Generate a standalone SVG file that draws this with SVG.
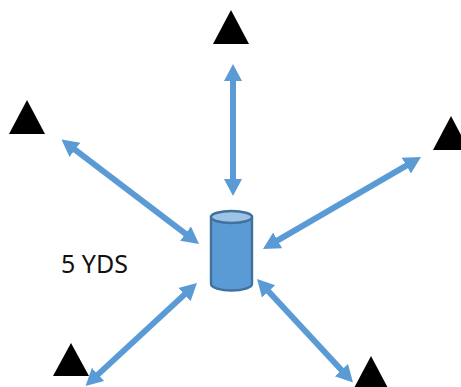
<svg xmlns="http://www.w3.org/2000/svg" width="461" height="387" viewBox="0 0 461 387">
<style>
.tri{fill:#000}
.conn{stroke:#5B9BD5;stroke-width:6;fill:none;marker-start:url(#head);marker-end:url(#head)}
.cyl{fill:#5B9BD5;stroke:#41719C;stroke-width:2.4}
.cap{fill:#9DC3E6;stroke:#41719C;stroke-width:2.4}
.lbl{font-family:"Noto Sans","Open Sans",sans-serif;font-size:25px;fill:#111}
</style>
<defs>
<marker id="head" markerUnits="userSpaceOnUse" markerWidth="20" markerHeight="20" refX="1" refY="10" orient="auto-start-reverse" viewBox="0 0 20 20">
<path d="M0 1L17 10L0 19Z" fill="#5B9BD5"/>
</marker>
</defs>
<rect width="461" height="387" fill="#fff"/>
<g id="connectors">
<line class="conn" x1="233" y1="80" x2="233" y2="180"/>
<line class="conn" x1="74.2" y1="149.2" x2="186.3" y2="234.3"/>
<line class="conn" x1="97.3" y1="375.1" x2="185.2" y2="293.9"/>
<line class="conn" x1="267.9" y1="290.7" x2="342.1" y2="370.8"/>
<line class="conn" x1="276.8" y1="240.9" x2="407.2" y2="165.1"/>
</g>
<g id="cylinder">
<path class="cyl" d="M211 217V284A20.5 6.5 0 0 0 252 284V217Z"/>
<ellipse class="cap" cx="231.5" cy="217" rx="20.5" ry="6"/>
</g>
<g id="marker-top"><polygon class="tri" points="231,10 213,44 249,44"/></g>
<g id="marker-left"><polygon class="tri" points="27,100 9,134 45,134"/></g>
<g id="marker-right"><polygon class="tri" points="451,116 433,150 469,150"/></g>
<g id="marker-bottom-left"><polygon class="tri" points="71,343 53,376 89,376"/></g>
<g id="marker-bottom-right"><polygon class="tri" points="371,356 353,390 389,390"/></g>
<g id="label"><text class="lbl" x="61" y="273">5 YDS</text></g>
</svg>
